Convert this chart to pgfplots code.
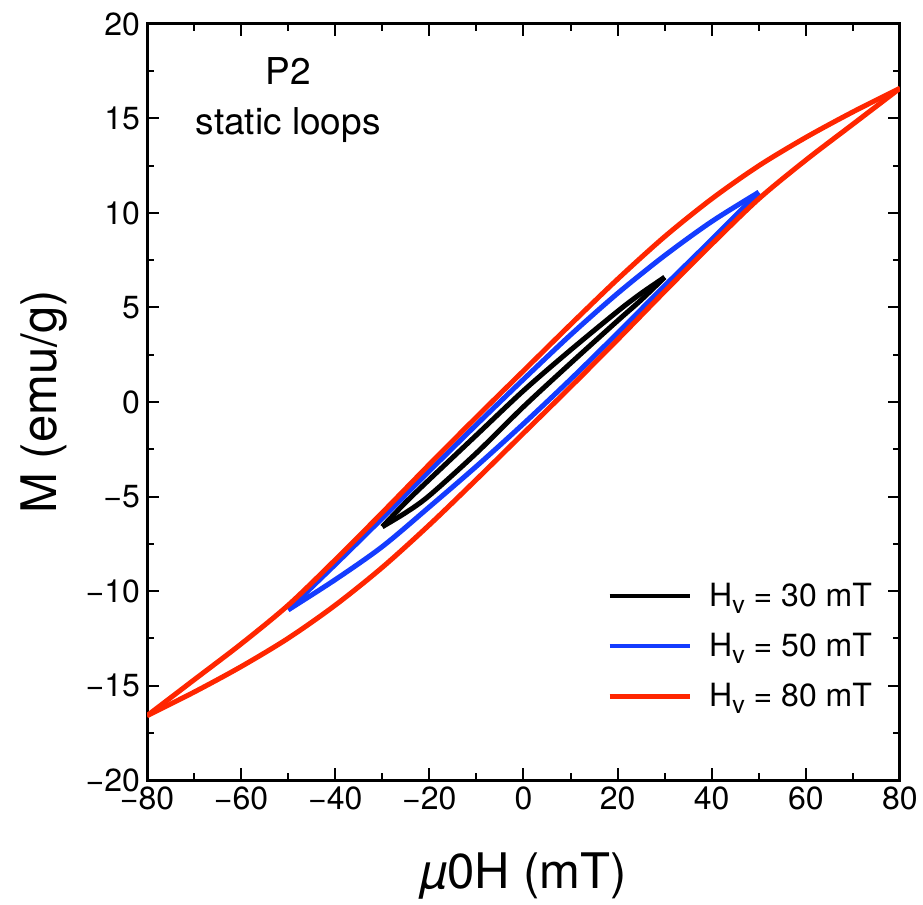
\documentclass[border=0pt]{standalone}
\usepackage{fontspec}
\setmainfont{TeX Gyre Heros}
\usepackage{pgfplots}
\pgfplotsset{compat=1.18}
\definecolor{myblue}{RGB}{20,60,255}
\definecolor{myred}{RGB}{255,38,0}
\newcommand{\Hv}{H\raisebox{-3.5pt}{\fontsize{12.5}{12.5}\selectfont v}}
\begin{document}
\begin{tikzpicture}
\begin{axis}[
  scale only axis, width=376.5pt, height=378pt,
  xmin=-80, xmax=80, ymin=-20, ymax=20,
  xtick={-80,-60,...,80}, xticklabels={−80,−60,−40,−20,0,20,40,60,80},
  ytick={-20,-15,...,20}, yticklabels={−20,−15,−10,−5,0,5,10,15,20},
  minor x tick num=1, minor y tick num=1,
  tick align=inside,
  major tick length=6pt, minor tick length=3.5pt,
  every tick/.style={line width=1pt, black},
  axis line style={line width=1.5pt},
  tick label style={font=\fontsize{16}{19}\selectfont},
  xlabel={\textit{µ}0H (mT)}, ylabel={M (emu/g)},
  label style={font=\fontsize{24.5}{29}\selectfont},
  xlabel style={at={([yshift=-54pt]axis description cs:0.5,0)}, anchor=base},
  ylabel style={at={([xshift=-45pt]axis description cs:0,0.5)}, anchor=base, rotate=0},
  legend style={draw=none, fill=none, at={(0.603,0.272)}, anchor=north west,
    font=\fontsize{16}{18}\selectfont, row sep=8pt},
  legend cell align=left,
  legend image code/.code={\draw[#1, line width=2.2pt] (0pt,0pt) -- (40pt,0pt); \path (46.5pt,0pt);},
]
\coordinate (bl) at (rel axis cs:0,0);
\coordinate (tr) at (rel axis cs:1,1);
% H_v = 30 mT
\addplot[black, line width=2.5pt, smooth] coordinates {
 (30,6.6) (25,5.75) (20,4.8) (10,2.75) (0,0.6) (-10,-1.75) (-20,-4.1) (-25,-5.3) (-30,-6.6)};
\addlegendentry{\Hv{} = 30 mT}
\addplot[black, line width=2.5pt, smooth, forget plot] coordinates {
 (-30,-6.6) (-25,-5.85) (-20,-4.95) (-10,-2.7) (0,-0.25) (10,2.05) (20,4.3) (25,5.4) (30,6.6)};
% H_v = 50 mT
\addplot[myblue, line width=2.5pt, smooth] coordinates {
 (50,11.1) (40,9.55) (30,7.75) (20,5.75) (10,3.55) (0,1.2) (-10,-1.2) (-20,-3.65) (-30,-6.15) (-40,-8.6) (-50,-11.0)};
\addlegendentry{\Hv{} = 50 mT}
\addplot[myblue, line width=2.5pt, smooth, forget plot] coordinates {
 (-50,-11.0) (-40,-9.4) (-30,-7.65) (-20,-5.55) (-10,-3.4) (0,-1.15) (10,1.2) (20,3.65) (30,6.15) (40,8.6) (50,11.1)};
% H_v = 80 mT
\addplot[myred, line width=2.5pt, smooth] coordinates {
 (80,16.6) (70,15.35) (60,14.0) (50,12.5) (40,10.75) (30,8.75) (20,6.5) (10,4.1) (0,1.65) (-10,-0.8) (-20,-3.3) (-30,-5.85) (-40,-8.35) (-50,-10.75) (-60,-12.8) (-70,-14.7) (-80,-16.6)};
\addlegendentry{\Hv{} = 80 mT}
\addplot[myred, line width=2.5pt, smooth, forget plot] coordinates {
 (-80,-16.6) (-70,-15.35) (-60,-14.0) (-50,-12.5) (-40,-10.75) (-30,-8.75) (-20,-6.5) (-10,-4.1) (0,-1.65) (10,0.8) (20,3.3) (30,5.85) (40,8.35) (50,10.75) (60,12.8) (70,14.7) (80,16.6)};
\node[align=center, font=\fontsize{18.5}{25}\selectfont] at (axis cs:-50,16.0) {P2\\static loops};
\end{axis}
\pgfresetboundingbox
\path[use as bounding box] ([shift={(-73.5pt,-62pt)}]bl) rectangle ([shift={(11.5pt,12pt)}]tr);
\end{tikzpicture}
\end{document}
